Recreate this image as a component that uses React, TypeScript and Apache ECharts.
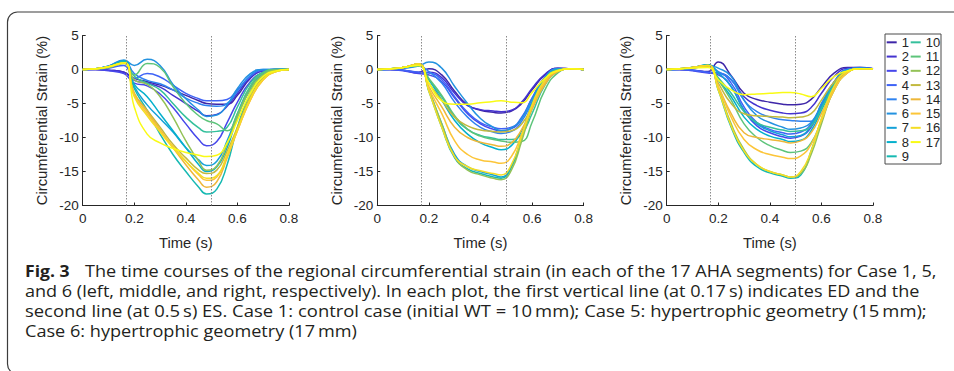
import React, { useEffect, useRef } from "react";
import * as echarts from "echarts";

const TIME = [0, 0.05, 0.1, 0.16, 0.2, 0.25, 0.3, 0.35, 0.4, 0.45, 0.48, 0.52, 0.56, 0.6, 0.65, 0.7, 0.75, 0.8];
const SEGMENTS = ["1", "2", "3", "4", "5", "6", "7", "8", "9", "10", "11", "12", "13", "14", "15", "16", "17"];
const COLORS = [
  "#3e26a8", "#4433cf", "#4747eb", "#3f63f6", "#2f83f0", "#2392e0", "#14a1d8", "#05b0cc", "#16b9b2",
  "#34c09c", "#5dc47a", "#93c257", "#c2b93e", "#eeb739", "#fcc538", "#f4dd25", "#f9fb15",
];
const MARK_TIMES = [0.17, 0.5];
const X_MIN = 0, X_MAX = 0.8, X_STEP = 0.2;
const Y_MIN = -20, Y_MAX = 5, Y_STEP = 5;

const CASE1 = [
  [0, 0, -0.1, -0.4, -1.3, -1.8, -2.3, -3.0, -3.8, -4.6, -5.0, -5.1, -5.1, -3.8, -1.3, -0.2, 0, 0],
  [0, 0, -0.1, -0.4, -1.6, -2.0, -2.6, -3.8, -5.0, -6.2, -6.8, -6.6, -5.4, -3.5, -1.2, -0.2, 0, 0],
  [0, 0, -0.2, -0.6, -2.0, -2.4, -3.6, -5.6, -8.0, -10.3, -11.2, -10.6, -7.8, -4.8, -1.8, -0.4, 0, 0],
  [0, 0.05, 0.2, 0.6, -1.3, -0.6, -1.1, -2.3, -3.5, -4.3, -4.6, -4.6, -4.4, -3.0, -1.0, -0.1, 0, 0],
  [0, 0.1, 0.5, 1.3, -0.6, -1.6, -2.1, -3.0, -4.2, -5.0, -5.3, -5.4, -5.0, -3.2, -0.9, 0, 0, 0],
  [0, 0.1, 0.5, 1.4, 0.6, 1.5, 0.6, -2.2, -4.3, -6.0, -6.9, -6.7, -5.2, -2.8, -0.6, 0, 0, 0],
  [0, 0.1, 0.5, 1.3, -2.5, -5.2, -7.2, -9.2, -11.5, -13.3, -14.1, -13.5, -10.5, -6.5, -2.5, -0.5, 0, 0],
  [0, 0.1, 0.4, 1.2, -2.2, -4.0, -6.5, -9.0, -11.5, -14.0, -15.0, -14.3, -11.5, -7.0, -2.8, -0.6, 0, 0],
  [0, 0.1, 0.4, 1.2, -2.8, -6.0, -9.5, -12.5, -15.0, -17.3, -18.3, -17.6, -14.0, -8.5, -3.5, -0.9, -0.1, 0],
  [0, 0.1, 0.3, 1.0, -1.0, -2.0, -3.0, -5.0, -7.0, -8.6, -9.2, -9.1, -8.5, -5.5, -2.0, -0.4, 0, 0],
  [0, 0.1, 0.3, 1.0, -0.8, 0.9, 0.3, -2.5, -5.0, -6.8, -7.5, -8.0, -9.0, -6.5, -2.5, -0.5, 0, 0],
  [0, 0.1, 0.3, 0.9, -1.5, -2.2, -4.0, -7.0, -10.5, -13.5, -14.8, -14.2, -11.0, -7.0, -3.0, -0.8, -0.1, 0],
  [0, 0.1, 0.4, 1.0, -3.5, -6.0, -8.5, -11.0, -13.0, -14.8, -15.3, -14.8, -12.0, -8.5, -4.0, -1.2, -0.2, 0],
  [0, 0.1, 0.4, 1.0, -3.5, -6.2, -8.8, -11.5, -14.0, -16.3, -17.3, -16.5, -13.0, -9.0, -4.5, -1.5, -0.3, 0],
  [0, 0.1, 0.4, 1.0, -3.8, -6.5, -9.0, -11.3, -13.5, -15.5, -16.3, -15.8, -12.8, -9.0, -4.5, -1.5, -0.3, 0],
  [0, 0.1, 0.4, 1.0, -4.0, -6.8, -9.2, -11.5, -13.5, -15.3, -16.0, -15.6, -12.5, -8.8, -4.3, -1.4, -0.3, 0],
  [0, 0.1, 0.4, 1.0, -5.5, -9.5, -10.8, -11.6, -12.2, -12.6, -12.8, -12.6, -10.8, -7.5, -3.5, -1.0, -0.2, 0],
];

const CASE5 = [
  [0, 0, -0.1, -0.4, 0.1, -0.8, -3.2, -5.2, -6.0, -6.3, -6.4, -6.1, -5.0, -3.0, -0.8, 0.2, 0.1, 0],
  [0, 0, -0.1, -0.5, -0.4, -1.2, -3.5, -5.3, -5.9, -6.1, -6.2, -6.0, -4.8, -2.8, -0.7, 0.2, 0.1, 0],
  [0, 0, -0.2, -0.6, -0.8, -1.8, -4.2, -6.5, -8.0, -8.8, -9.0, -8.7, -7.2, -4.3, -1.2, 0.1, 0.1, 0],
  [0, 0, -0.1, -0.4, -0.5, -1.5, -4.0, -6.3, -7.8, -8.5, -8.7, -8.5, -7.0, -4.2, -1.1, 0.1, 0.1, 0],
  [0, 0.05, 0.2, 0.5, -0.3, -2.0, -4.8, -7.0, -8.5, -9.2, -9.4, -9.1, -7.6, -4.8, -1.5, 0.1, 0.1, 0],
  [0, 0.05, 0.2, 0.5, 1.1, 0.2, -2.5, -5.0, -7.2, -8.5, -9.0, -8.6, -7.2, -4.4, -1.2, 0.1, 0.1, 0],
  [0, 0.1, 0.3, 0.8, -3.0, -8.0, -12.5, -14.3, -15.0, -15.5, -15.8, -14.2, -9.8, -5.0, -1.3, 0, 0.1, 0],
  [0, 0.1, 0.3, 0.6, -1.5, -4.5, -7.5, -9.5, -10.8, -11.5, -11.8, -11.2, -9.0, -5.5, -1.8, -0.2, 0.1, 0],
  [0, 0.1, 0.3, 0.8, -3.2, -8.5, -13.0, -14.6, -15.3, -15.8, -16.0, -14.4, -10.0, -5.2, -1.4, 0, 0.1, 0],
  [0, 0.1, 0.3, 0.6, -1.5, -4.0, -7.0, -8.8, -9.7, -10.1, -10.3, -10.3, -9.5, -6.5, -2.3, -0.3, 0.1, 0],
  [0, 0.1, 0.3, 0.6, -1.3, -3.8, -6.8, -8.8, -9.8, -10.3, -10.5, -10.7, -10.6, -7.8, -3.0, -0.5, 0.1, 0],
  [0, 0.1, 0.3, 0.8, -3.0, -8.0, -12.8, -14.8, -15.5, -16.0, -16.2, -14.8, -10.5, -5.8, -1.8, -0.2, 0.1, 0],
  [0, 0.1, 0.3, 0.8, -2.0, -4.5, -7.0, -8.3, -8.9, -9.1, -9.2, -9.0, -8.0, -5.5, -2.0, -0.3, 0.1, 0],
  [0, 0.1, 0.3, 0.8, -2.5, -5.5, -8.5, -10.0, -10.7, -11.1, -11.3, -10.8, -8.8, -5.8, -2.2, -0.3, 0.1, 0],
  [0, 0.1, 0.3, 0.8, -2.8, -6.5, -10.5, -12.5, -13.3, -13.6, -13.8, -12.8, -9.5, -5.5, -1.8, -0.2, 0.1, 0],
  [0, 0.1, 0.3, 0.8, -3.2, -8.5, -12.8, -14.3, -14.9, -15.3, -15.5, -14.0, -9.8, -5.2, -1.5, -0.1, 0.1, 0],
  [0, 0.1, 0.3, 0.6, -2.0, -4.6, -5.1, -5.1, -4.9, -4.7, -4.6, -4.8, -4.9, -3.4, -1.3, -0.2, 0.1, 0],
];

const CASE6 = [
  [0, 0, -0.1, -0.3, 1.1, -0.9, -3.5, -4.4, -4.8, -5.1, -5.2, -5.1, -4.4, -2.6, -0.5, 0.3, 0.3, 0.1],
  [0, 0, -0.1, -0.4, -0.5, -1.5, -4.0, -5.3, -6.0, -6.4, -6.5, -6.4, -5.6, -3.5, -1.0, 0.2, 0.3, 0.1],
  [0, 0, -0.2, -0.5, -0.8, -2.5, -6.0, -8.3, -9.3, -9.9, -10.1, -9.8, -8.5, -5.5, -2.0, 0, 0.2, 0.1],
  [0, 0, -0.1, -0.4, -0.5, -2.0, -5.5, -7.8, -8.8, -9.3, -9.5, -9.2, -8.0, -5.2, -1.8, 0, 0.2, 0.1],
  [0, 0.05, 0.2, 0.5, -0.3, -1.5, -4.5, -6.2, -7.0, -7.4, -7.5, -7.6, -7.6, -5.0, -1.8, 0, 0.2, 0.1],
  [0, 0.05, 0.2, 0.6, 0.2, -1.0, -4.5, -6.8, -7.8, -8.5, -8.8, -8.6, -7.8, -5.2, -1.8, 0, 0.2, 0.1],
  [0, 0.1, 0.3, 0.7, -0.5, -2.5, -6.0, -8.0, -9.0, -9.6, -9.9, -9.7, -8.2, -5.5, -2.0, -0.2, 0.2, 0.1],
  [0, 0.1, 0.3, 0.6, -1.5, -4.0, -7.0, -8.8, -9.8, -10.3, -10.6, -10.4, -9.0, -6.0, -2.2, -0.2, 0.1, 0.1],
  [0, 0.1, 0.3, 0.7, -3.0, -8.5, -12.2, -14.3, -15.2, -15.7, -16.0, -15.5, -12.0, -7.3, -2.2, -0.2, 0.1, 0.1],
  [0, 0.1, 0.3, 0.5, -1.2, -3.5, -6.2, -7.8, -8.5, -8.9, -9.1, -9.0, -8.3, -5.8, -2.2, -0.3, 0.1, 0.1],
  [0, 0.1, 0.3, 0.5, -1.5, -4.5, -8.0, -10.0, -11.2, -11.9, -12.2, -12.0, -10.8, -7.5, -3.0, -0.5, 0.1, 0.1],
  [0, 0.1, 0.3, 0.6, -2.8, -8.0, -11.8, -14.0, -15.0, -15.5, -15.8, -15.3, -12.5, -8.0, -2.8, -0.4, 0.1, 0.1],
  [0, 0.1, 0.3, 0.5, -2.0, -5.0, -6.5, -6.8, -6.9, -7.0, -7.1, -7.0, -6.5, -4.5, -1.8, -0.3, 0.1, 0.1],
  [0, 0.1, 0.3, 0.6, -2.5, -6.5, -9.3, -10.0, -10.3, -10.6, -10.8, -10.5, -9.3, -6.5, -2.8, -0.5, 0.1, 0.1],
  [0, 0.1, 0.3, 0.6, -2.5, -7.0, -10.3, -11.8, -12.5, -12.9, -13.1, -12.7, -11.0, -7.5, -3.0, -0.5, 0.1, 0.1],
  [0, 0.1, 0.3, 0.6, -3.0, -8.3, -12.0, -14.0, -15.0, -15.5, -15.8, -15.0, -12.0, -7.2, -2.4, -0.3, 0.1, 0.1],
  [0, 0.1, 0.2, 0.3, -1.5, -3.0, -3.7, -3.6, -3.5, -3.4, -3.4, -3.6, -4.0, -2.8, -1.0, -0.2, 0.1, 0.1],
];

const CASES = [CASE1, CASE5, CASE6];
const X_NAME = "Time (s)";
const Y_NAME = "Circumferential Strain (%)";

const CAPTION_BOLD = "Fig. 3";
const CAPTION_LINES = [
  "The time courses of the regional circumferential strain (in each of the 17 AHA segments) for Case 1, 5,",
  "and 6 (left, middle, and right, respectively). In each plot, the first vertical line (at 0.17\u2009s) indicates ED and the",
  "second line (at 0.5\u2009s) ES. Case 1: control case (initial WT = 10\u2009mm); Case 5: hypertrophic geometry (15\u2009mm);",
  "Case 6: hypertrophic geometry (17\u2009mm)",
];

// layout
const GRID_LEFTS = [82.7, 377.3, 666.7];
const GRID_W = 206.3;
const GRID_TOP = 35.5;
const GRID_H = 170;
const AXIS_FONT = "'Liberation Sans', Arial, Helvetica, sans-serif";
const CAP_FONT_FAMILY = "'Open Sans', 'Noto Sans', sans-serif";
const CAP_SIZE = 16;
const CAP_X = 25;
const CAP_Y = [271, 291, 311, 331];
const CAP_SCALES = [1.13, 1.128, 1.152, 1.133];
const BOLD_SCALE = 1.1;
const LINE1_START = 85;

export default function App() {
  const ref = useRef<HTMLDivElement>(null);
  useEffect(() => {
    if (!ref.current) return;
    const chart = echarts.init(ref.current, undefined, { renderer: "svg" });
    const AXC = "#262626";
    const grids = GRID_LEFTS.map((l) => ({ left: l, top: GRID_TOP, width: GRID_W, height: GRID_H }));
    const xAxes = GRID_LEFTS.map((_, i) => ({
      type: "value",
      gridIndex: i,
      min: X_MIN,
      max: X_MAX,
      interval: X_STEP,
      name: X_NAME,
      nameLocation: "middle",
      nameGap: 30,
      nameTextStyle: { fontSize: 14.8, color: AXC, fontFamily: AXIS_FONT },
      axisLine: { show: true, onZero: false, lineStyle: { color: AXC, width: 1 } },
      axisTick: { show: true, inside: true, length: 3, lineStyle: { color: AXC } },
      axisLabel: { fontSize: 13.5, color: AXC, fontFamily: AXIS_FONT, margin: 6 },
      splitLine: { show: false },
    }));
    const yAxes = GRID_LEFTS.map((_, i) => ({
      type: "value",
      gridIndex: i,
      min: Y_MIN,
      max: Y_MAX,
      interval: Y_STEP,
      name: Y_NAME,
      nameLocation: "middle",
      nameGap: 33,
      nameRotate: 90,
      nameTextStyle: { fontSize: 14.8, color: AXC, fontFamily: AXIS_FONT },
      axisLine: { show: true, lineStyle: { color: AXC, width: 1 } },
      axisTick: { show: true, inside: true, length: 3, lineStyle: { color: AXC } },
      axisLabel: { fontSize: 13.5, color: AXC, fontFamily: AXIS_FONT, margin: 4 },
      splitLine: { show: false },
    }));
    const series: any[] = [];
    CASES.forEach((cs, gi) => {
      cs.forEach((vals, si) => {
        const s: any = {
          type: "line",
          name: SEGMENTS[si],
          xAxisIndex: gi,
          yAxisIndex: gi,
          data: TIME.map((t, k) => [t, vals[k]]),
          smooth: 0.5,
          showSymbol: false,
          symbol: "none",
          color: COLORS[si],
          lineStyle: { width: 1.5, color: COLORS[si] },
          emphasis: { disabled: true },
          silent: true,
        };
        if (si === 0) {
          s.markLine = {
            silent: true,
            symbol: ["none", "none"],
            label: { show: false },
            lineStyle: { type: [1.5, 1.5], color: "#8a8a8a", width: 1 },
            data: MARK_TIMES.map((t) => ({ xAxis: t })),
          };
        }
        series.push(s);
      });
    });

    const legendCommon = {
      orient: "vertical",
      top: 35.2,
      padding: 0,
      itemGap: 0,
      itemWidth: 10,
      itemHeight: 2,
      icon: "rect",
      selectedMode: false,
      textStyle: { fontSize: 13, lineHeight: 14.25, color: AXC, fontFamily: AXIS_FONT },
    };

    const capEls: any[] = [];
    capEls.push({
      type: "text",
      x: CAP_X,
      y: CAP_Y[0],
      scaleX: BOLD_SCALE,
      scaleY: 1,
      style: { text: CAPTION_BOLD, fontFamily: CAP_FONT_FAMILY, fontSize: CAP_SIZE, fontWeight: "bold", fill: "#231f20", verticalAlign: "middle", align: "left" },
    });
    CAPTION_LINES.forEach((ln, i) => {
      const start = i === 0 ? LINE1_START : CAP_X;
      capEls.push({
        type: "text",
        x: start,
        y: CAP_Y[i],
        scaleX: CAP_SCALES[i],
        scaleY: 1,
        style: { text: ln, fontFamily: CAP_FONT_FAMILY, fontSize: CAP_SIZE, fill: "#231f20", verticalAlign: "middle", align: "left" },
      });
    });

    chart.setOption({
      animation: false,
      backgroundColor: "#ffffff",
      grid: grids,
      xAxis: xAxes,
      yAxis: yAxes,
      legend: [
        { ...legendCommon, left: 886.7, data: SEGMENTS.slice(0, 9) },
        { ...legendCommon, left: 910.7, data: SEGMENTS.slice(9) },
      ],
      series,
      graphic: [
        {
          type: "rect",
          shape: { x: 7.5, y: 12, width: 1000, height: 362, r: 10 },
          style: { fill: "none", stroke: "#3c3c3c", lineWidth: 1.2 },
          silent: true,
          z: -10,
        },
        {
          type: "rect",
          shape: { x: 885, y: 34, width: 56, height: 130 },
          style: { fill: "#ffffff", stroke: "#4a4a4a", lineWidth: 1 },
          silent: true,
          z: -5,
        },
        ...capEls,
      ],
    });
    return () => chart.dispose();
  }, []);
  return <div ref={ref} style={{ position: "fixed", left: 0, top: 0, width: 954, height: 371 }} />;
}
